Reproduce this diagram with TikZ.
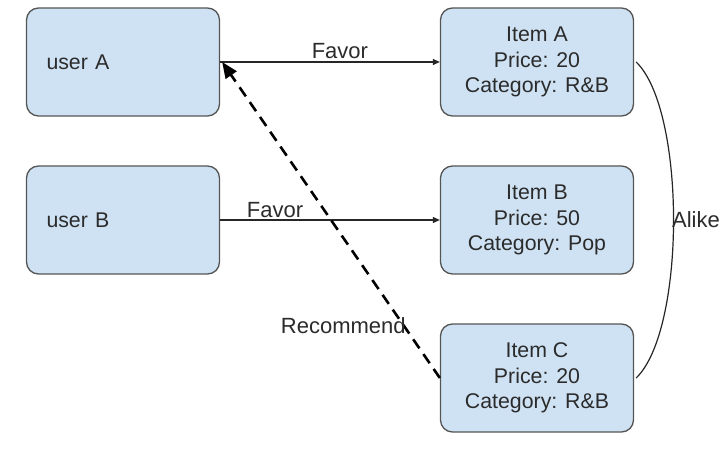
\documentclass[tikz,border=0pt]{standalone}
\usepackage{fontspec}
\setmainfont{Liberation Sans}
\usetikzlibrary{arrows.meta}
\definecolor{boxfill}{HTML}{CFE2F3}
\definecolor{boxline}{HTML}{555555}
\definecolor{txt}{HTML}{2B2B2B}
\tikzset{
  box/.style={draw=boxline, line width=1.3pt, fill=boxfill, rounded corners=12pt,
    minimum width=193pt, minimum height=108pt, text=txt, align=center,
    font=\fontsize{21.3}{25.5}\selectfont},
  userbox/.style={box, text width=153pt, inner xsep=20pt, align=left},
  conn/.style={draw=black!85, line width=1.2pt, -{Triangle[length=7pt,width=6pt]}},
  recconn/.style={draw=black, line width=2.6pt, dash pattern=on 11pt off 7pt,
    -{Triangle[length=16pt,width=13pt]}},
  lbl/.style={text=txt, font=\fontsize{22}{26}\selectfont, inner sep=2pt}
}
\begin{document}
\begin{tikzpicture}[x=1pt,y=-1pt]
\useasboundingbox (0,0) rectangle (728,454);
\node[userbox] (userA) at (123,62) {user A};
\node[userbox] (userB) at (123,220) {user B};
\node[box] (itemA) at (537,62) {Item A\\Price: 20\\Category: R\&B};
\node[box] (itemB) at (537,220) {Item B\\Price: 50\\Category: Pop};
\node[box] (itemC) at (537,378) {Item C\\Price: 20\\Category: R\&B};
\draw[conn] (userA.east) -- node[lbl, pos=0.545, above, yshift=1pt] (favA) {Favor} (itemA.west);
\draw[conn] (userB.east) -- node[lbl, pos=0.25, above] (favB) {Favor} (itemB.west);
\draw[recconn] (itemC.west) -- node[lbl, pos=0.165, anchor=east, inner sep=0pt, xshift=3pt] (rec) {Recommend} ([xshift=2pt]userA.east);
\draw[draw=black!85, line width=1.2pt] ([xshift=2pt]itemA.east) .. controls (686,110) and (686,330) .. node[lbl, pos=0.5, anchor=west, inner sep=0pt, xshift=-2pt] (alike) {Alike} ([xshift=2pt]itemC.east);
\end{tikzpicture}
\end{document}
